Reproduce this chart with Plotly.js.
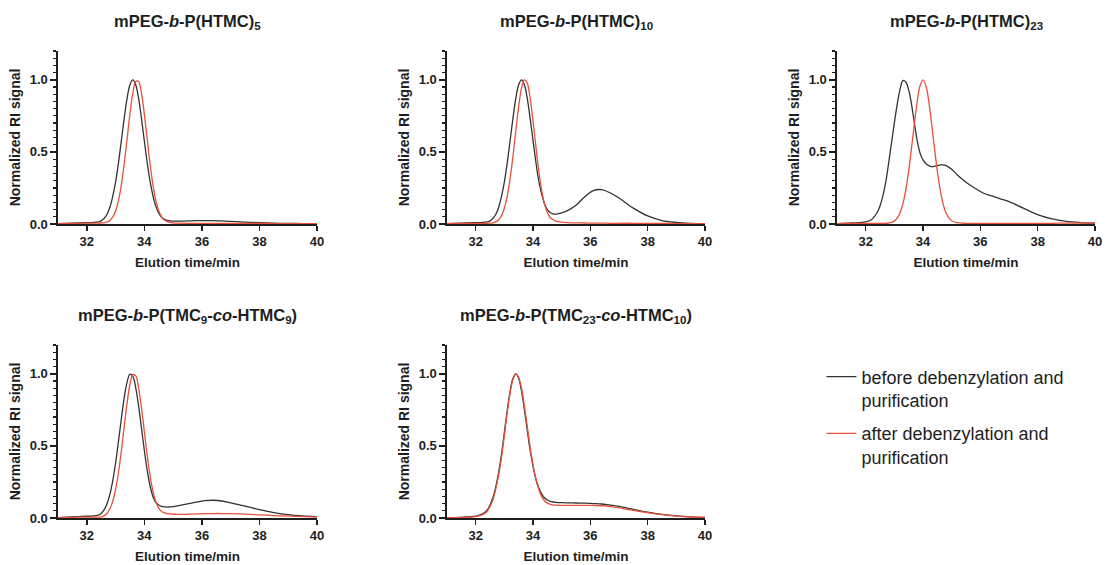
<!DOCTYPE html>
<html>
<head>
<meta charset="utf-8">
<script src="https://cdn.plot.ly/plotly-3.0.1.min.js"></script>
<style>html,body{margin:0;padding:0;background:#fff;}#chart{width:1105px;height:565px;}</style>
</head>
<body>
<div id="chart"></div>
<script>
// Elution time grid (min)
const time = [31.0, 31.5, 32.0, 32.2,
  32.4, 32.5, 32.6, 32.7, 32.8, 32.9, 33.0, 33.1, 33.2, 33.3, 33.4, 33.5, 33.6, 33.7, 33.8, 33.9,
  34.0, 34.1, 34.2, 34.3, 34.4, 34.5, 34.6, 34.7, 34.8,
  35.0, 35.2, 35.5, 35.8, 36.1, 36.4, 36.7, 37.0, 37.5, 38.0, 38.5, 39.0, 39.5, 40.0];

// Panel titles
const panelTitles = [
  "mPEG-<i>b</i>-P(HTMC)<sub>5</sub>",
  "mPEG-<i>b</i>-P(HTMC)<sub>10</sub>",
  "mPEG-<i>b</i>-P(HTMC)<sub>23</sub>",
  "mPEG-<i>b</i>-P(TMC<sub>9</sub>-<i>co</i>-HTMC<sub>9</sub>)",
  "mPEG-<i>b</i>-P(TMC<sub>23</sub>-<i>co</i>-HTMC<sub>10</sub>)"
];
const seriesNames = ["before debenzylation and<br>purification", "after debenzylation and<br>purification"];

// Normalized RI signal, before (black) and after (red)
const before1 = [0.003, 0.006, 0.009, 0.010,
  0.014, 0.022, 0.038, 0.066, 0.115, 0.19, 0.29, 0.422, 0.576, 0.733, 0.871, 0.966, 1.0, 0.966, 0.871, 0.733,
  0.576, 0.425, 0.295, 0.195, 0.122, 0.075, 0.047, 0.032, 0.025,
  0.02, 0.02, 0.021, 0.023, 0.024, 0.023, 0.021, 0.018, 0.013, 0.009, 0.006, 0.004, 0.003, 0.002];
const after1 = [0.003, 0.005, 0.006, 0.006,
  0.006, 0.007, 0.009, 0.014, 0.025, 0.047, 0.09, 0.161, 0.27, 0.416, 0.588, 0.762, 0.907, 0.989, 0.989, 0.907,
  0.762, 0.588, 0.416, 0.27, 0.162, 0.092, 0.05, 0.027, 0.016,
  0.008, 0.006, 0.005, 0.005, 0.005, 0.005, 0.005, 0.005, 0.004, 0.004, 0.003, 0.003, 0.003, 0.003];

const before2 = [0.003, 0.006, 0.009, 0.010,
  0.014, 0.022, 0.038, 0.066, 0.115, 0.19, 0.29, 0.422, 0.576, 0.733, 0.871, 0.966, 1.0, 0.966, 0.871, 0.733,
  0.58, 0.43, 0.30, 0.21, 0.14, 0.10, 0.08, 0.071, 0.069,
  0.077, 0.093, 0.13, 0.188, 0.232, 0.238, 0.215, 0.18, 0.11, 0.056, 0.024, 0.011, 0.005, 0.003];
const after2 = [0.003, 0.004, 0.004, 0.004,
  0.005, 0.006, 0.008, 0.015, 0.029, 0.058, 0.109, 0.192, 0.313, 0.468, 0.645, 0.814, 0.943, 1.0, 0.977, 0.873,
  0.715, 0.538, 0.371, 0.236, 0.14, 0.08, 0.045, 0.03, 0.02,
  0.013, 0.01, 0.008, 0.007, 0.006, 0.006, 0.005, 0.005, 0.005, 0.004, 0.004, 0.003, 0.003, 0.003];

const before3 = [0.003, 0.007, 0.014, 0.03,
  0.08, 0.125, 0.195, 0.29, 0.42, 0.56, 0.7, 0.83, 0.935, 0.995, 0.985, 0.93, 0.83, 0.7, 0.575, 0.49,
  0.445, 0.42, 0.405, 0.398, 0.4, 0.405, 0.41, 0.41, 0.405,
  0.38, 0.34, 0.29, 0.25, 0.215, 0.195, 0.175, 0.155, 0.11, 0.065, 0.035, 0.018, 0.01, 0.006];
const after3 = [0.003, 0.004, 0.004, 0.004,
  0.004, 0.004, 0.004, 0.005, 0.007, 0.011, 0.02, 0.04, 0.078, 0.141, 0.237, 0.368, 0.527, 0.698, 0.852, 0.961,
  1.0, 0.961, 0.852, 0.698, 0.527, 0.368, 0.237, 0.141, 0.078,
  0.022, 0.009, 0.005, 0.005, 0.005, 0.005, 0.005, 0.005, 0.005, 0.005, 0.005, 0.006, 0.007, 0.008];

const before4 = [0.003, 0.008, 0.012, 0.013,
  0.02, 0.032, 0.056, 0.097, 0.162, 0.256, 0.38, 0.529, 0.687, 0.833, 0.943, 0.997, 0.983, 0.905, 0.778, 0.625,
  0.47, 0.33, 0.222, 0.148, 0.108, 0.09, 0.081, 0.077, 0.076,
  0.079, 0.086, 0.098, 0.11, 0.12, 0.123, 0.118, 0.105, 0.083, 0.058, 0.038, 0.023, 0.014, 0.009];
const after4 = [0.003, 0.005, 0.006, 0.006,
  0.006, 0.007, 0.015, 0.031, 0.062, 0.115, 0.197, 0.314, 0.464, 0.632, 0.795, 0.926, 0.994, 0.986, 0.904, 0.765,
  0.6, 0.435, 0.293, 0.185, 0.112, 0.068, 0.045, 0.035, 0.03,
  0.026, 0.025, 0.026, 0.028, 0.03, 0.031, 0.031, 0.03, 0.027, 0.022, 0.017, 0.013, 0.01, 0.008];

const before5 = [0.002, 0.005, 0.013, 0.025,
  0.055, 0.09, 0.14, 0.215, 0.315, 0.44, 0.592, 0.745, 0.877, 0.968, 1.0, 0.968, 0.88, 0.75, 0.61, 0.47,
  0.36, 0.27, 0.21, 0.167, 0.14, 0.125, 0.116, 0.111, 0.108,
  0.106, 0.105, 0.104, 0.103, 0.10, 0.097, 0.09, 0.08, 0.06, 0.04, 0.025, 0.015, 0.008, 0.004];
const after5 = [0.002, 0.004, 0.01, 0.02,
  0.045, 0.08, 0.125, 0.2, 0.295, 0.42, 0.57, 0.73, 0.865, 0.96, 0.998, 0.975, 0.9, 0.775, 0.635, 0.49,
  0.37, 0.27, 0.2, 0.15, 0.12, 0.103, 0.095, 0.091, 0.089,
  0.088, 0.088, 0.088, 0.088, 0.087, 0.085, 0.079, 0.07, 0.053, 0.037, 0.023, 0.013, 0.007, 0.004];

const xTickVals = [32, 34, 36, 38, 40];
const yTickVals = [0, 0.5, 1.0];

const beforeSets = [before1, before2, before3, before4, before5];
const afterSets = [after1, after2, after3, after4, after5];

const FONT = "Liberation Sans, Arial, Helvetica, sans-serif";
const INK = "#1e1e1e";
const BLACK = "#333333";
const RED = "#e8503c";
const W = 1105, H = 565;

// plot boxes in pixels [left, right, top, bottom]
const boxes = [
  [58, 317, 51, 224],
  [447, 705, 51, 224],
  [837, 1095, 51, 224],
  [58, 317, 345, 518],
  [447, 705, 345, 518]
];

const traces = [];
const layout = {
  width: W, height: H,
  margin: {l: 0, r: 0, t: 0, b: 0},
  paper_bgcolor: "#fff", plot_bgcolor: "#fff",
  font: {family: FONT, color: INK},
  showlegend: true,
  legend: {
    x: 0.7434, y: 0.3656, xanchor: "left", yanchor: "top",
    font: {family: FONT, size: 18, color: INK},
    valign: "top", tracegroupgap: 7, bgcolor: "rgba(0,0,0,0)"
  },
  annotations: []
};

boxes.forEach((b, i) => {
  const n = i + 1;
  const xa = "xaxis" + (n === 1 ? "" : n);
  const ya = "yaxis" + (n === 1 ? "" : n);
  const xr = "x" + (n === 1 ? "" : n);
  const yr = "y" + (n === 1 ? "" : n);
  traces.push({
    x: time, y: beforeSets[i], xaxis: xr, yaxis: yr, type: "scatter", mode: "lines",
    name: seriesNames[0], legendgroup: "before", showlegend: i === 0,
    line: {color: BLACK, width: 1.3, shape: "spline", smoothing: 1}
  });
  traces.push({
    x: time, y: afterSets[i], xaxis: xr, yaxis: yr, type: "scatter", mode: "lines",
    name: seriesNames[1], legendgroup: "after", showlegend: i === 0,
    line: {color: RED, width: 1.3, shape: "spline", smoothing: 1}
  });
  layout[xa] = {
    domain: [b[0] / W, b[1] / W], anchor: yr, range: [31, 40],
    tickmode: "array", tickvals: xTickVals,
    ticks: "outside", ticklen: 5, tickwidth: 1.5, tickcolor: INK,
    showline: true, linecolor: INK, linewidth: 1.6,
    showgrid: false, zeroline: false, fixedrange: true,
    tickfont: {family: FONT, size: 13, weight: "bold", color: INK},
    title: {text: "Elution time/min", font: {family: FONT, size: 13.5, weight: "bold", color: INK}, standoff: 9}
  };
  layout[ya] = {
    domain: [1 - b[3] / H, 1 - b[2] / H], anchor: xr, range: [0, 1.2],
    tickmode: "array", tickvals: yTickVals, tickformat: ".1f",
    ticks: "outside", ticklen: 6, tickwidth: 1.5, tickcolor: INK,
    minor: {tick0: 0, dtick: 0.05, ticks: "outside", ticklen: 3, tickwidth: 1.2, tickcolor: INK, showgrid: false},
    showline: true, linecolor: INK, linewidth: 1.6,
    showgrid: false, zeroline: false, fixedrange: true,
    tickfont: {family: FONT, size: 13, weight: "bold", color: INK},
    title: {text: "Normalized RI signal", font: {family: FONT, size: 14, weight: "bold", color: INK}, standoff: 6}
  };
  layout.annotations.push({
    xref: "paper", yref: "paper",
    x: (b[0] + b[1]) / 2 / W, y: 1 - (b[2] - 29) / H,
    xanchor: "center", yanchor: "middle", showarrow: false,
    text: "<b>" + panelTitles[i] + "</b>",
    font: {family: FONT, size: 16.5, color: INK}
  });
});

Plotly.newPlot("chart", traces, layout, {displayModeBar: false, staticPlot: true});
</script>
</body>
</html>
